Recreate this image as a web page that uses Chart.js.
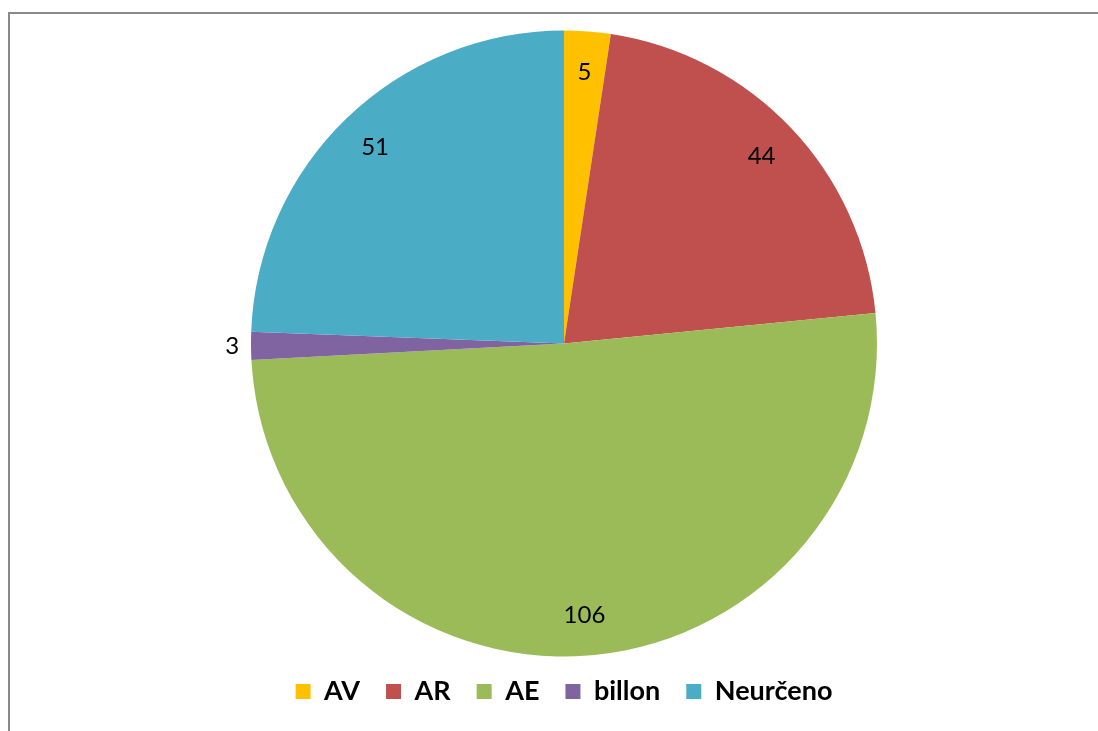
<!DOCTYPE html>
<html>
<head>
<meta charset="utf-8">
<script src="https://cdn.jsdelivr.net/npm/chart.js@4"></script>
<style>
  html, body { margin: 0; padding: 0; background: #fff; overflow: hidden; }
  #frame { position: absolute; left: 8px; top: 12px; width: 2000px; height: 2000px;
           border-left: 2px solid #8a8a8a; border-top: 2px solid #8a8a8a; box-sizing: border-box; }
  #wrap { position: absolute; left: 0; top: 0; width: 1098px; height: 731px; }
</style>
</head>
<body>
<div id="frame"></div>
<div id="wrap"><canvas id="c" width="1098" height="731"></canvas></div>
<script>
const categories = ['AV', 'AR', 'AE', 'billon', 'Neurčeno'];
const counts = [5, 44, 106, 3, 51];
const sliceColors = ['#FFC000', '#C0504D', '#9BBB59', '#8064A2', '#4BACC6'];

const labelPlugin = {
  id: 'sliceLabels',
  afterDatasetsDraw(chart) {
    const ctx = chart.ctx;
    const meta = chart.getDatasetMeta(0);
    const data = chart.data.datasets[0].data;
    const total = data.reduce((a, b) => a + b, 0);
    ctx.save();
    ctx.font = '24px Lato, "Open Sans", sans-serif';
    ctx.fillStyle = '#000';
    ctx.textAlign = 'center';
    ctx.textBaseline = 'middle';
    meta.data.forEach((arc, i) => {
      const p = arc.getProps(['x', 'y', 'startAngle', 'endAngle', 'outerRadius'], true);
      const mid = (p.startAngle + p.endAngle) / 2;
      const small = data[i] / total < 0.02;
      const r = p.outerRadius * (small ? 1.06 : 0.87);
      ctx.fillText(String(data[i]), p.x + Math.cos(mid) * r, p.y + Math.sin(mid) * r);
    });
    ctx.restore();
  }
};

new Chart(document.getElementById('c'), {
  type: 'pie',
  data: {
    labels: categories,
    datasets: [{
      data: counts,
      backgroundColor: sliceColors,
      borderWidth: 0,
      radius: 313
    }]
  },
  options: {
    responsive: false,
    animation: false,
    layout: { padding: { left: 30, right: 0, top: 35, bottom: 16 } },
    plugins: {
      tooltip: { enabled: false },
      legend: {
        position: 'bottom',
        labels: {
          color: '#000',
          font: { family: 'Lato, "Open Sans", sans-serif', size: 27, weight: 'bold' },
          boxWidth: 15,
          boxHeight: 15,
          padding: 26
        }
      }
    }
  },
  plugins: [labelPlugin]
});
</script>
</body>
</html>
